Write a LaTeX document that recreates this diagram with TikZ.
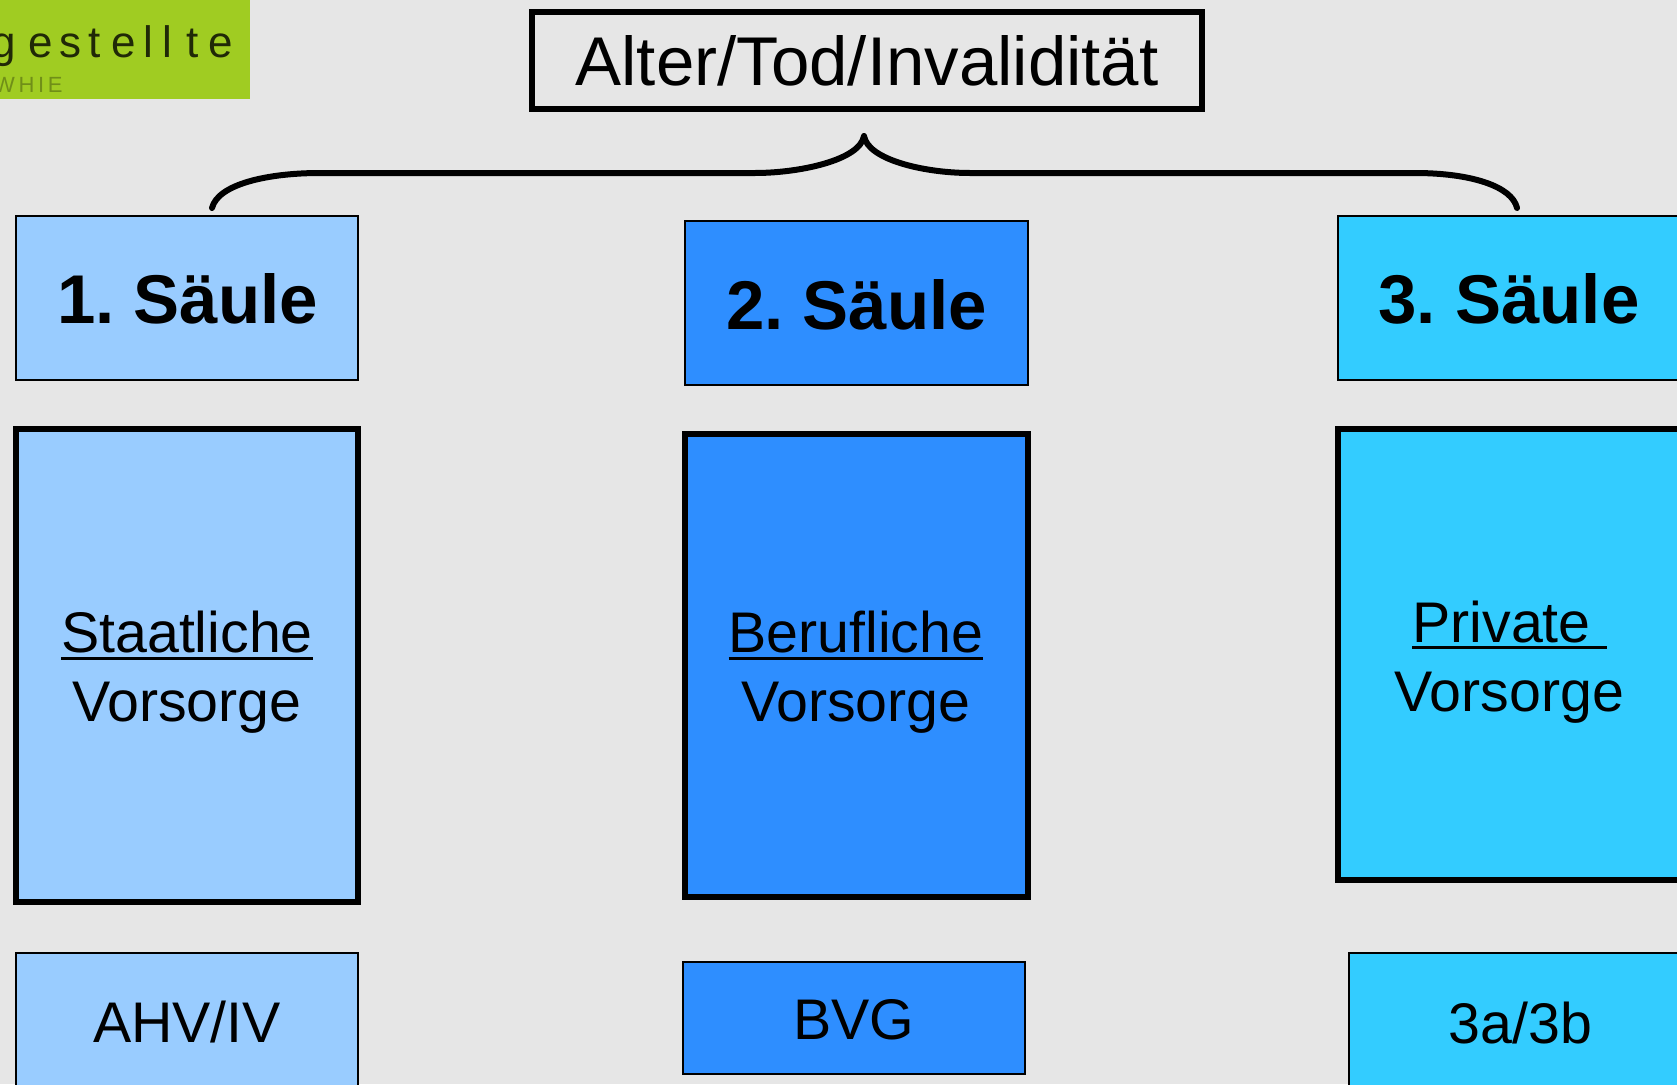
\documentclass[tikz,border=0pt]{standalone}
\usepackage{fontspec}
\setmainfont{Liberation Sans}
\newcommand{\ulbar}[1]{\setbox0\hbox{#1}\rlap{\rule[-7pt]{\wd0}{3pt}}\box0}
\newcommand{\logoltr}[2]{\makebox[#1pt][c]{#2}}
\definecolor{bgc}{HTML}{E6E6E6}
\definecolor{cone}{HTML}{99CCFF}
\definecolor{ctwo}{HTML}{2E8EFF}
\definecolor{cthree}{HTML}{33CCFF}
\definecolor{logoc}{HTML}{A0CC22}
\tikzset{
 x=1pt,y=-1pt,
 box/.style={draw=black,line width=2pt,inner sep=0,outer sep=0},
 bigbox/.style={draw=black,line width=6pt,inner sep=0,outer sep=0},
 titlebox/.style={draw=black,line width=6pt,inner sep=0,outer sep=0},
 lab/.style={anchor=base,inner sep=0,outer sep=0,text=black},
 head/.style={lab,font=\fontsize{69}{69}\selectfont\bfseries},
 body/.style={lab,font=\fontsize{57.3}{69}\selectfont},
 block/.style={inner sep=0,outer sep=0,text=black,align=center,font=\fontsize{57.3}{69}\selectfont},
 bracket/.style={draw=black,line width=6pt,line cap=round,line join=round}
}
\begin{document}
\begin{tikzpicture}
\useasboundingbox (0,0) rectangle (1677,1084);
\clip (0,0) rectangle (1677,1084);
\fill[bgc] (0,0) rectangle (1677,1084);
% logo
\fill[logoc] (0,0) rectangle (250,99);
\node[anchor=base west,inner sep=0,text=black!80!logoc,font=\fontsize{44}{44}\selectfont] (logotext) at (-18,57) {\logoltr{44}{g}\logoltr{30}{e}\logoltr{28}{s}\logoltr{20}{t}\logoltr{40}{e}\logoltr{8}{l}\logoltr{30}{l}\logoltr{20}{t}\logoltr{38}{e}};
\node[anchor=base west,inner sep=0,text=black!30!logoc,font=\fontsize{22}{22}\selectfont] (logosub) at (-6,92) {W\,H\,I\,E};
% title
\draw[titlebox] (532,12) rectangle (1202,108.5);
\node[lab,font=\fontsize{69}{69}\selectfont] (title) at (867,85.5) {Alter/Tod/Invalidität};
% bracket
\coordinate (bl) at (212,208);
\coordinate (bm) at (864,136);
\coordinate (br) at (1517,208);
\draw[bracket] (bl) .. controls (218,184) and (268,173) .. (320,173) -- (755,173) .. controls (800,173) and (860,160) .. (bm) .. controls (868,160) and (925,173) .. (970,173) -- (1415,173) .. controls (1470,173) and (1512,186) .. (br);
% headers
\path[box,fill=cone] (16,216) rectangle (358,380);
\path[box,fill=ctwo] (685,221) rectangle (1028,385);
\path[box,fill=cthree] (1338,216) rectangle (1700,380);
\node[head] (h1) at (187.5,323.5) {1.\ Säule};
\node[head] (h2) at (856.5,329) {2.\ Säule};
\node[head] (h3) at (1509,323.5) {3.\ Säule};
% big
\path[bigbox,fill=cone] (16,429) rectangle (358,902);
\path[bigbox,fill=ctwo] (685,434) rectangle (1028,897);
\path[bigbox,fill=cthree] (1338,429) rectangle (1700,880);
\node[block] (t1) at (187,672.5) {\ulbar{Staatliche}\\Vorsorge};
\node[block] (t2) at (856,672.5) {\ulbar{Berufliche}\\Vorsorge};
\node[block] (t3) at (1509.5,662) {\ulbar{Private\ }\\Vorsorge};
% bottom
\path[box,fill=cone] (16,953) rectangle (358,1120);
\path[box,fill=ctwo] (683,962) rectangle (1025,1074);
\path[box,fill=cthree] (1349,953) rectangle (1700,1120);
\node[body] (b1) at (187,1042) {AHV/IV};
\node[body] (b2) at (853.5,1039) {BVG};
\node[body] (b3) at (1520.5,1043) {3a/3b};
\end{tikzpicture}
\end{document}
